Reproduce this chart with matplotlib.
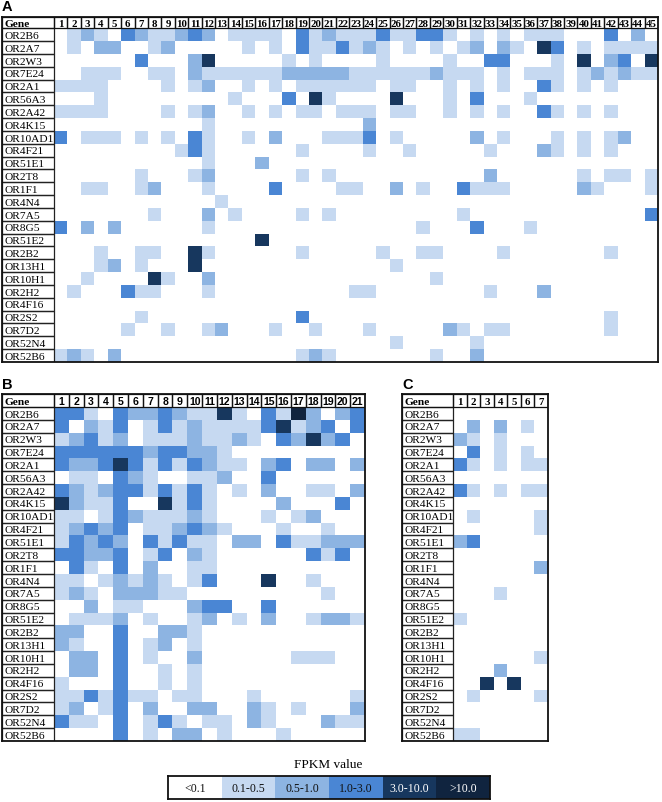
#/usr/bin/python3
import numpy as np
import matplotlib
matplotlib.use("Agg")
import matplotlib.pyplot as plt
from matplotlib.colors import ListedColormap
from matplotlib.patches import Rectangle

genes = ["OR2B6", "OR2A7", "OR2W3", "OR7E24", "OR2A1", "OR56A3", "OR2A42", "OR4K15",
         "OR10AD1", "OR4F21", "OR51E1", "OR2T8", "OR1F1", "OR4N4", "OR7A5", "OR8G5",
         "OR51E2", "OR2B2", "OR13H1", "OR10H1", "OR2H2", "OR4F16", "OR2S2", "OR7D2",
         "OR52N4", "OR52B6"]

# expression level per cell: 0 <0.1, 1 0.1-0.5, 2 0.5-1.0, 3 1.0-3.0, 4 3.0-10.0, 5 >10.0
levels_a = [
    "012103211232011110312111311331010101110003020",
    "010220012000001010311312101010120210430101111",
    "000000300024000001010000100001003300010402304",
    "001110011021111112222211111121110101110121211",
    "111100001012001010111111011001010100310101000",
    "000100000000010003041000040001030001000000000",
    "111100001012001010110111011001010100310101000",
    "000000000001000000000002000000000000000000000",
    "301110101031001020001113010000020100010101200",
    "000000000131000000100001001000001000210101000",
    "000000000001000200000000000000000000000000000",
    "000000100012000000101000000000002000000101101",
    "001100120001000030000110020100311100000210001",
    "000000000000100000000000000000000000000000000",
    "000000010002010000101000000000100000000000003",
    "302020000001000000000000000100030001000000000",
    "000000000000000400000000000000000000000000000",
    "000100110041000000100000100110000100000001000",
    "000120100040000000000000010000000000000000000",
    "001000041002000000000000000010000000000000000",
    "010003110001000000000011000000001000200000000",
    "000000000000000000000000000000000000000000000",
    "000000100000000000300000000000000000000001000",
    "000001001001200010010001000002101100000001000",
    "000000000000000000000000010000010000000000000",
    "121020000000000000121000000010020000000000000",
]

levels_b = [
    "331032232114103152023",
    "302130131211113412303",
    "123120111211210324230",
    "333333233221000000000",
    "322343131321102302202",
    "011032100112003000000",
    "321233131310102001102",
    "421130041310000200030",
    "110132111210001012000",
    "123230112321000100100",
    "132320313110220311222",
    "332230130210000003130",
    "031030200110000000000",
    "110121210130004001000",
    "121022211000000000100",
    "002011000233003000000",
    "011120100120102001221",
    "220030022100000000000",
    "210030120100000000000",
    "022030100200000011100",
    "022030010100000000000",
    "100030010100000000000",
    "113131101100010000001",
    "120130200220021010002",
    "311030131011021000211",
    "000030102201000100000",
]

levels_c = [
    "0000000", "0202010", "2101000", "0301010", "3101011", "0000000",
    "3101011", "0000000", "0100001", "0000001", "2300000", "0000000",
    "0000002", "0000000", "0001000", "0000000", "1000000", "0000000",
    "0000000", "0000001", "0002000", "0040400", "0100001", "0000000",
    "0000000", "1100000",
]

legend_labels = ["<0.1", "0.1-0.5", "0.5-1.0", "1.0-3.0", "3.0-10.0", ">10.0"]
colors = ["#FFFFFF", "#C6D9F1", "#8DB4E2", "#4A86D4", "#17375E", "#10243F"]
cmap = ListedColormap(colors)

W, H = 662, 803
SERIF = ["Liberation Serif", "DejaVu Serif"]
SANS = ["Liberation Sans", "DejaVu Sans"]


def to_matrix(rows):
    return np.array([[int(ch) for ch in r] for r in rows])


def px_axes(fig, left, top, right, bottom):
    return fig.add_axes([left / W, 1 - bottom / H, (right - left) / W, (bottom - top) / H])


def panel(fig, rows, box, gene_px, head_px, num_family, label, label_xy):
    data = to_matrix(rows)
    nrow, ncol = data.shape
    left, top, right, bottom = box
    cw = (right - left - gene_px) / ncol
    rh = (bottom - top - head_px) / nrow
    gw = gene_px / cw
    hh = head_px / rh
    ax = px_axes(fig, left, top, right, bottom)
    ax.set_xlim(-gw, ncol)
    ax.set_ylim(nrow, -hh)
    ax.pcolormesh(np.arange(ncol + 1), np.arange(nrow + 1), data,
                  cmap=cmap, vmin=-0.5, vmax=5.5)
    # gene column
    for i, g in enumerate(genes):
        ax.add_patch(Rectangle((-gw, i), gw, 1, fill=False, ec="#222222", lw=0.9))
        ax.text(-gw + 0.18, i + 0.55, g, va="center", ha="left",
                fontsize=8.2, family=SERIF)
    # header row
    ax.add_patch(Rectangle((-gw, -hh), gw, hh, fill=False, ec="#111111", lw=0.9))
    ax.text(-gw + 0.18, -hh / 2 + 0.05, "Gene", va="center", ha="left",
            fontsize=8.2, family=SERIF, fontweight="bold")
    for j in range(ncol):
        ax.add_patch(Rectangle((j, -hh), 1, hh, fill=False, ec="#111111", lw=0.9))
        ax.text(j + 0.5, -hh / 2 + 0.05, str(j + 1), va="center", ha="center",
                fontsize=7.8 if num_family is SERIF else 7.6,
                family=num_family, fontweight="bold")
    ax.set_xticks([])
    ax.set_yticks([])
    for s in ax.spines.values():
        s.set_linewidth(1.3)
        s.set_color("#111111")
    fig.text(label_xy[0] / W, 1 - label_xy[1] / H, label, fontsize=10.5,
             fontweight="bold", family=SANS, va="center", ha="left")
    return ax


fig = plt.figure(figsize=(W / 100, H / 100), dpi=100)

panel(fig, levels_a, (2, 18, 658, 363), 52, 11.3, SERIF, "A", (2, 7))
panel(fig, levels_b, (2, 395, 365, 742), 52, 13, SANS, "B", (2, 385))
panel(fig, levels_c, (402, 395, 548, 742), 51, 13, SERIF, "C", (402, 385))

# legend
fig.text(328 / W, 1 - 765 / H, "FPKM value", fontsize=9.5, family=SERIF,
         ha="center", va="center")
lax = px_axes(fig, 168, 777, 490, 800)
lax.pcolormesh(np.arange(len(colors) + 1), [0, 1],
               np.arange(len(colors)).reshape(1, -1), cmap=cmap, vmin=-0.5, vmax=5.5)
lax.set_xlim(0, len(colors))
lax.set_ylim(0, 1)
for k, lab in enumerate(legend_labels):
    lax.text(k + 0.5, 0.47, lab, ha="center", va="center", fontsize=8.6,
             family=SERIF, color="white" if k >= 4 else "#111111")
lax.set_xticks([])
lax.set_yticks([])
for s in lax.spines.values():
    s.set_linewidth(1.3)
    s.set_color("#111111")

fig.savefig("out.png", dpi=100)
